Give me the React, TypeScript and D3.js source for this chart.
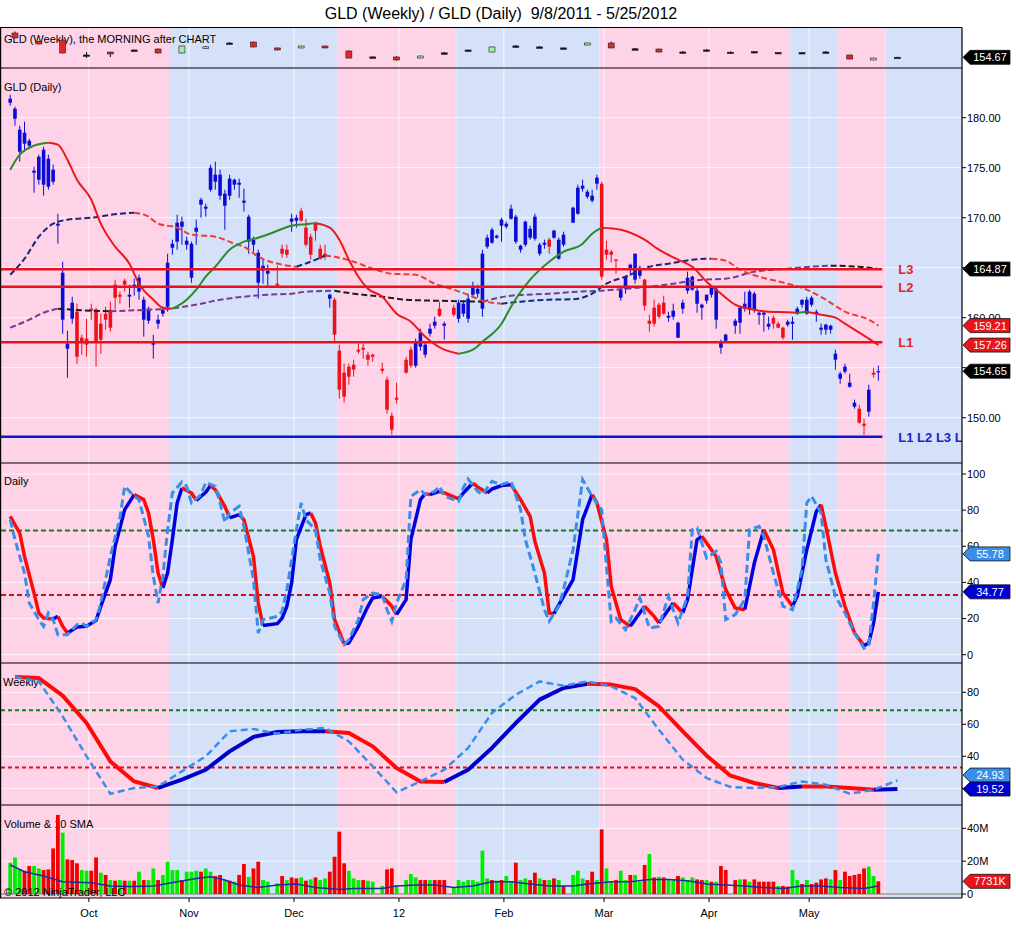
import { useEffect, useRef } from "react";
import * as d3 from "d3";

// calendar: one slot per weekday from 9/8/2011, holidays leave an empty slot
const firstDay = new Date(2011, 8, 8);
const stopDay = new Date(2012, 4, 22);
const holidays = ["2011-11-24", "2011-12-26", "2012-01-02", "2012-01-16", "2012-02-20", "2012-04-06"];
const monthStarts = ["2011-10", "2011-11", "2011-12", "2012-01", "2012-02", "2012-03", "2012-04", "2012-05"];
const monthLabels = ["Oct", "Nov", "Dec", "12", "Feb", "Mar", "Apr", "May"];

// GLD daily, one entry per trading day
const dailyOpen = [
  181.5, 179.9, 176.6, 177.4, 177.2, 174.5, 173.8, 173.3, 173.1, 173.6,
  169.2, 159.8, 156.9, 159.9, 160.6, 158.0, 157.9, 160.9, 160.8, 159.4,
  160.4, 160.8, 163.3, 162.3, 163.7, 162.1, 163.1, 162.6, 159.8, 159.7,
  157.3, 159.4, 160.4, 161.1, 167.0, 167.6, 169.1, 167.3, 164.0, 168.6,
  171.3, 170.9, 172.8, 173.6, 172.2, 171.2, 172.2, 173.3, 173.3, 171.5,
  167.6, 167.3, 163.5, 164.7, 164.4, 163.4, 166.9, 166.8, 169.6, 169.7,
  170.7, 169.0, 168.1, 169.4, 166.9, 166.4, 161.9, 161.8, 156.7, 154.5,
  155.1, 155.3, 156.8, 157.0, 156.3, 156.3, 154.9, 153.8, 150.2, 152.0,
  155.8, 156.8, 155.2, 157.1, 156.3, 158.4, 159.2, 160.9, 159.2, 161.0,
  159.9, 160.4, 159.9, 162.3, 162.4, 160.9, 167.1, 167.5, 168.0, 169.2,
  169.1, 169.9, 167.6, 166.8, 167.3, 168.0, 167.9, 166.4, 167.3, 167.8,
  168.0, 165.9, 167.3, 169.5, 170.4, 172.9, 172.1, 171.7, 173.4, 173.4,
  166.8, 166.6, 165.8, 162.0, 162.9, 164.8, 163.8, 164.2, 163.8, 159.7,
  161.0, 161.3, 161.5, 160.0, 160.1, 158.0, 160.9, 162.7, 162.8, 161.4,
  161.0, 161.7, 162.3, 159.8, 157.0, 157.7, 159.2, 159.5, 160.9, 160.8,
  160.8, 160.3, 160.3, 159.1, 160.0, 159.4, 159.0, 159.3, 159.4, 160.4,
  161.3, 160.4, 161.3, 160.4, 158.8, 158.8, 158.8, 155.8, 153.9, 154.6,
  153.1, 151.1, 150.9, 149.4, 150.6, 154.5, 154.6,
];
const dailyHigh = [
  182.3, 181.1, 179.2, 179.6, 177.9, 175.1, 176.3, 177.1, 176.3, 175.3,
  170.4, 165.6, 158.7, 162.1, 161.4, 158.3, 159.9, 161.4, 161.0, 160.4,
  161.1, 161.6, 163.8, 162.6, 163.9, 163.3, 163.9, 164.3, 162.1, 161.1,
  158.3, 160.3, 161.1, 166.4, 167.8, 170.3, 170.1, 168.1, 167.6, 169.8,
  172.0, 171.4, 175.3, 175.6, 174.8, 172.8, 174.3, 173.9, 173.9, 172.9,
  170.3, 168.1, 166.8, 165.8, 165.3, 165.2, 167.3, 167.3, 170.4, 170.3,
  171.0, 169.9, 168.4, 169.6, 167.3, 167.3, 162.4, 162.0, 157.3, 155.4,
  155.4, 155.8, 157.4, 157.4, 156.6, 156.4, 155.5, 154.1, 150.5, 153.5,
  156.1, 157.1, 157.9, 158.9, 157.6, 159.4, 160.1, 161.6, 159.6, 161.3,
  161.8, 161.7, 162.4, 163.6, 163.3, 166.8, 168.3, 169.0, 168.3, 170.0,
  169.6, 171.3, 170.3, 167.3, 169.7, 169.2, 170.4, 167.5, 167.8, 168.0,
  168.8, 168.0, 168.6, 171.1, 173.3, 173.8, 172.8, 172.8, 174.3, 173.6,
  167.7, 166.8, 165.9, 163.0, 164.2, 165.4, 166.4, 165.2, 163.9, 160.3,
  161.8, 161.5, 162.2, 160.6, 161.4, 159.6, 161.8, 164.6, 164.2, 163.1,
  161.4, 162.3, 163.2, 163.1, 157.8, 158.4, 159.9, 161.2, 162.6, 162.8,
  162.6, 160.6, 160.6, 160.1, 160.2, 159.6, 159.1, 159.8, 160.1, 161.1,
  161.8, 162.1, 162.2, 160.8, 159.4, 159.4, 159.3, 156.8, 154.6, 155.4,
  154.4, 151.8, 151.3, 149.9, 153.3, 155.0, 155.2,
];
const dailyLow = [
  181.2, 179.2, 175.6, 176.6, 176.9, 172.5, 173.3, 172.2, 172.8, 173.3,
  167.4, 158.4, 154.0, 159.4, 155.4, 156.3, 156.1, 159.8, 155.1, 156.4,
  158.8, 158.6, 160.8, 161.4, 162.6, 161.0, 162.2, 161.8, 158.1, 159.4,
  155.9, 158.9, 160.1, 160.6, 166.3, 166.8, 167.3, 166.8, 163.5, 167.3,
  170.0, 170.1, 172.6, 172.8, 171.8, 168.8, 171.8, 172.8, 172.0, 170.6,
  166.4, 166.6, 161.9, 163.4, 163.2, 163.0, 166.0, 166.0, 168.6, 169.0,
  169.6, 167.1, 165.8, 167.7, 165.8, 165.8, 161.0, 157.6, 151.9, 151.5,
  153.3, 154.1, 156.4, 155.9, 155.2, 155.6, 154.4, 150.4, 148.3, 151.4,
  154.4, 155.0, 155.0, 156.7, 156.0, 158.1, 158.9, 160.1, 157.8, 160.1,
  159.5, 160.1, 159.5, 162.0, 162.0, 160.1, 166.9, 167.4, 167.9, 167.6,
  168.9, 169.8, 167.4, 166.5, 167.1, 167.8, 167.7, 166.2, 166.9, 166.4,
  167.9, 165.8, 167.1, 169.5, 170.3, 172.6, 171.9, 171.5, 172.8, 163.8,
  165.8, 165.5, 164.4, 161.7, 162.4, 164.2, 163.4, 163.9, 160.7, 158.6,
  159.1, 159.9, 160.3, 159.6, 159.8, 158.0, 160.4, 162.4, 162.7, 160.5,
  159.8, 161.4, 162.0, 158.9, 156.4, 157.6, 158.4, 158.4, 160.6, 160.3,
  160.5, 159.3, 158.6, 158.8, 158.9, 159.0, 157.8, 159.1, 157.8, 160.3,
  161.0, 160.3, 161.1, 159.6, 158.3, 158.3, 158.4, 154.8, 153.4, 154.4,
  153.0, 150.9, 149.4, 148.3, 150.1, 154.0, 153.7,
];
const dailyClose = [
  181.9, 180.9, 178.8, 178.5, 177.7, 174.7, 176.1, 176.8, 175.9, 174.8,
  169.4, 164.5, 157.4, 161.5, 156.1, 157.5, 157.3, 160.7, 157.6, 157.8,
  159.8, 159.0, 162.0, 162.1, 163.3, 162.3, 163.3, 164.0, 161.8, 160.9,
  157.5, 159.8, 160.8, 165.5, 167.4, 169.5, 169.6, 167.7, 167.4, 169.0,
  171.8, 171.1, 175.0, 174.3, 174.3, 172.4, 173.9, 173.8, 173.5, 171.7,
  170.1, 167.8, 166.5, 165.2, 164.7, 163.2, 166.4, 166.3, 169.9, 170.0,
  169.7, 167.3, 166.3, 168.7, 165.9, 166.2, 162.3, 158.3, 152.8, 152.1,
  154.1, 154.8, 156.6, 156.8, 155.8, 156.1, 154.7, 150.8, 148.8, 151.8,
  154.5, 155.2, 157.6, 158.5, 157.3, 158.9, 159.6, 160.2, 159.4, 160.3,
  161.5, 161.4, 161.9, 163.1, 162.9, 166.4, 168.0, 168.8, 168.2, 169.8,
  169.4, 170.9, 170.1, 167.2, 169.6, 168.9, 170.1, 167.3, 167.5, 167.1,
  168.7, 167.8, 168.3, 171.0, 173.0, 173.2, 172.6, 172.2, 174.0, 164.1,
  166.3, 166.3, 165.7, 162.8, 164.1, 165.3, 166.4, 165.0, 161.2, 159.4,
  159.4, 160.1, 160.4, 160.2, 160.7, 159.5, 161.5, 164.0, 164.1, 162.7,
  161.3, 162.3, 163.0, 162.9, 157.6, 158.3, 159.7, 161.0, 161.4, 162.6,
  162.4, 160.5, 160.5, 159.4, 159.4, 159.0, 158.0, 159.6, 159.6, 160.9,
  161.8, 161.8, 162.0, 160.6, 159.0, 159.3, 159.2, 156.4, 154.4, 155.1,
  153.5, 151.5, 149.5, 149.2, 152.8, 154.3, 154.65,
];

// volume in millions, G = up day, R = down day
const volumeM = [
  19.1, 22.3, 15.0, 14.2, 17.1, 17.1, 15.6, 14.6, 15.0, 27.8,
  48.2, 37.4, 21.1, 20.7, 18.7, 14.6, 14.2, 14.2, 22.3, 13.0,
  11.6, 8.5, 8.1, 8.5, 8.1, 8.1, 8.1, 13.6, 8.5, 8.5,
  15.6, 8.5, 11.6, 19.7, 14.6, 14.6, 8.5, 13.6, 13.6, 14.2,
  13.6, 15.6, 13.6, 11.0, 11.6, 8.5, 8.1, 7.5, 11.6, 18.3,
  10.5, 15.6, 19.7, 8.5, 7.5, 6.5, 11.0, 8.5, 10.1, 9.5,
  10.1, 8.1, 8.9, 10.1, 8.5, 9.5, 13.6, 22.7, 38.0, 18.7,
  14.2, 9.5, 8.5, 8.5, 8.1, 7.5, 4.9, 15.0, 15.6, 5.5,
  8.5, 12.2, 10.1, 8.5, 8.5, 8.5, 8.5, 8.5, 8.5, 4.0,
  8.5, 7.5, 8.5, 8.5, 7.5, 26.4, 9.5, 8.5, 8.1, 8.5,
  11.0, 7.5, 19.1, 8.5, 9.5, 8.5, 13.0, 9.5, 8.5, 8.5,
  9.5, 8.5, 4.9, 11.6, 14.2, 9.5, 8.5, 13.6, 8.5, 39.4,
  15.6, 7.5, 8.5, 14.2, 8.5, 11.6, 11.6, 7.5, 17.7, 24.4,
  10.1, 10.5, 10.1, 8.5, 8.5, 11.0, 10.1, 8.5, 10.1, 8.9,
  8.5, 8.5, 7.5, 7.5, 17.1, 14.6, 8.5, 8.9, 8.9, 7.5,
  8.9, 7.5, 7.5, 7.5, 7.5, 4.9, 4.9, 4.5, 14.6, 8.5,
  6.1, 8.5, 6.1, 6.9, 8.9, 9.5, 8.9, 14.6, 8.5, 13.6,
  11.0, 11.6, 12.2, 15.6, 16.7, 11.0, 7.731,
];
const volumeDir =
  "GGGRRGGRRRRGRRRGGRRGRGRGRGRGRGGRGGGGRGGGRGGRRGRGRRGRRGG" +
  "GRGRRGRGRGGRRRRGGGRGG" + "GRRG" + "GGGRRGRRR" +
  "GGGGGGGGRGRGGRGGRRGRGRGR" + "GGGRRGRGGRGGRGGRGRGRGGRGGGRRGRGRR" +
  "RGRGRRRRRGRRGGRGRRRRGRGRRRRRGGR";
// 10 period SMA of volume, [slot, millions]
const volumeSma: [number, number][] = [
  [0, 17.7], [3, 13.6], [7, 11.0], [11, 7.5], [17, 6.9], [21, 4.9], [25, 4.5], [30, 4.9], [35, 7.5], [39, 9.5],
  [42, 10.5], [45, 8.5], [48, 5.5], [52, 4.0], [56, 5.5], [60, 6.1], [64, 4.0], [69, 2.8], [72, 3.4], [78, 3.4],
  [81, 4.9], [85, 5.5], [89, 5.5], [93, 4.0], [97, 4.9], [101, 7.5], [105, 7.5], [109, 6.1], [113, 4.9], [118, 4.9],
  [121, 6.1], [126, 7.5], [130, 7.5], [134, 8.9], [138, 8.9], [142, 8.1], [146, 6.1], [150, 5.5], [154, 4.9], [158, 4.0],
  [162, 3.4], [166, 4.9], [170, 4.9], [174, 4.0], [179, 3.4], [182, 4.9],
];

// moving averages on the daily chart, [slot, price]
const maFast: [number, number][] = [
  [0, 174.8], [2, 176.3], [5, 177.2], [8, 177.5], [10, 177.3], [12, 175.8], [14, 173.8], [17, 171.8], [19, 169.4], [22, 167.1],
  [25, 165.4], [27, 163.4], [30, 161.8], [32, 161.0], [34, 160.9], [37, 161.8], [39, 162.8], [41, 164.1], [43, 165.1], [46, 166.8],
  [49, 167.6], [52, 168.0], [55, 168.5], [59, 169.2], [62, 169.35], [64, 169.45], [67, 169.0], [69, 167.8], [71, 165.8], [73, 164.1],
  [75, 162.9], [78, 162.1], [81, 160.4], [84, 159.6], [87, 158.1], [91, 156.8], [94, 156.4], [97, 156.8], [99, 157.6], [103, 159.4],
  [105, 161.1], [109, 163.8], [113, 165.6], [116, 166.6], [120, 167.4], [122, 168.4], [124, 169.0], [128, 168.8], [133, 167.8], [136, 166.8],
  [140, 165.8], [143, 165.1], [146, 163.6], [149, 162.4], [152, 161.3], [156, 160.8], [159, 160.6], [163, 160.55], [165, 160.5], [167, 160.6],
  [170, 160.3], [173, 160.0], [175, 159.4], [177, 158.8], [180, 157.9], [182, 157.26],
];
const maMid: [number, number][] = [
  [0, 164.3], [3, 165.9], [6, 168.1], [9, 169.4], [12, 169.8], [17, 170.0], [23, 170.4], [26, 170.5], [29, 170.1], [31, 169.4],
  [35, 169.0], [38, 168.3], [43, 168.1], [47, 167.4], [49, 167.1], [52, 166.1], [57, 165.3], [60, 165.1], [63, 165.6], [66, 166.2],
  [68, 166.1], [72, 165.6], [76, 164.9], [80, 164.4], [85, 164.3], [89, 163.4], [93, 162.8], [97, 162.1], [99, 161.7], [103, 161.4],
  [107, 161.6], [113, 161.8], [118, 161.85], [122, 162.4], [125, 163.4], [129, 164.1], [134, 165.1], [138, 165.4], [143, 165.8], [147, 165.9],
  [150, 165.7], [153, 164.8], [157, 164.1], [163, 163.4], [167, 162.8], [171, 161.8], [175, 160.6], [180, 159.8], [182, 159.21],
];
const maSlow: [number, number][] = [
  [0, 159.0], [4, 159.8], [7, 160.5], [10, 160.9], [13, 160.8], [17, 160.7], [21, 160.65], [24, 160.7], [29, 160.8], [32, 160.85],
  [35, 161.0], [40, 161.4], [44, 161.8], [49, 162.1], [54, 162.3], [59, 162.4], [62, 162.6], [68, 162.7], [72, 162.4], [78, 162.1],
  [83, 161.8], [89, 161.7], [94, 161.65], [99, 161.6], [105, 162.2], [113, 162.4], [119, 162.6], [124, 162.7], [129, 162.9], [134, 163.1],
  [139, 163.4], [145, 163.8], [150, 163.9], [156, 164.6], [163, 164.9], [168, 165.1], [172, 165.2], [178, 165.1], [182, 164.87],
];

// drawn levels
const levelPrices = [164.85, 163.1, 157.55];
const levelNames = ["L3", "L2", "L1"];
const supportPrice = 148.1;
const supportName = "L1 L2 L3 L4";

// daily stochastics, [slot, value]
const dailyD: [number, number][] = [
  [0, 76.6], [2, 67.3], [3, 54.4], [5, 34.1], [6, 23.1], [7, 20.3], [9, 19.7], [10, 21.2], [11, 15.7], [12, 12.0],
  [14, 15.3], [16, 15.7], [18, 19.0], [19, 26.8], [21, 41.5], [22, 60.0], [24, 80.3], [26, 88.6], [28, 85.8], [29, 78.4],
  [30, 63.7], [31, 45.2], [32, 36.9], [33, 45.2], [34, 63.7], [35, 84.0], [36, 92.3], [38, 89.5], [39, 85.4], [41, 89.9],
  [42, 93.6], [43, 91.3], [45, 82.1], [46, 75.7], [48, 77.5], [49, 74.7], [51, 54.4], [52, 28.6], [53, 16.1], [56, 17.2],
  [57, 20.3], [58, 26.8], [59, 39.7], [60, 63.7], [62, 77.5], [63, 78.4], [64, 72.9], [65, 60.0], [67, 39.7], [68, 19.4],
  [70, 6.0], [71, 6.5], [73, 15.7], [75, 26.8], [76, 31.4], [78, 32.3], [80, 26.8], [81, 22.2], [83, 30.5], [84, 63.7],
  [86, 85.8], [87, 89.1], [88, 88.6], [90, 90.4], [91, 89.5], [94, 86.2], [95, 89.5], [97, 95.0], [98, 92.8], [100, 89.5],
  [101, 91.7], [103, 93.6], [105, 94.1], [107, 85.8], [109, 76.6], [110, 62.7], [112, 45.2], [113, 23.1], [114, 22.7], [116, 32.3],
  [118, 41.5], [120, 74.7], [122, 88.6], [123, 84.0], [125, 63.7], [126, 37.8], [128, 19.4], [130, 15.7], [133, 26.8], [135, 21.2],
  [136, 17.5], [139, 28.6], [141, 23.1], [142, 30.5], [144, 63.7], [145, 65.5], [147, 58.1], [148, 54.4], [150, 36.0], [152, 25.8],
  [154, 24.9], [156, 50.7], [158, 69.2], [160, 58.1], [162, 34.1], [164, 26.8], [165, 32.3], [167, 58.1], [169, 79.3], [170, 83.0],
  [171, 71.0], [173, 45.2], [175, 26.8], [177, 12.0], [179, 5.0], [180, 6.5], [181, 17.5], [182, 34.77],
];
const dailyK: [number, number][] = [
  [0, 74.7], [1, 63.7], [3, 45.2], [4, 28.6], [6, 19.4], [7, 15.7], [8, 23.1], [9, 19.4], [10, 11.1], [12, 11.1],
  [14, 16.6], [15, 17.5], [16, 15.7], [18, 19.4], [19, 28.6], [21, 54.4], [23, 75.7], [24, 93.2], [26, 87.7], [27, 85.8],
  [29, 65.5], [30, 43.4], [31, 28.6], [32, 43.4], [33, 69.2], [34, 89.5], [36, 95.6], [37, 93.2], [38, 84.0], [40, 88.6],
  [41, 95.4], [43, 93.2], [44, 84.0], [45, 73.3], [46, 78.4], [48, 82.1], [49, 71.0], [51, 41.5], [52, 12.0], [53, 19.4],
  [56, 21.2], [57, 24.0], [58, 36.0], [60, 69.2], [61, 84.0], [62, 74.7], [64, 69.2], [65, 52.6], [67, 34.1], [68, 15.7],
  [70, 5.5], [71, 8.3], [73, 19.4], [74, 30.5], [76, 34.1], [78, 33.2], [79, 24.9], [80, 18.5], [81, 28.6], [83, 41.5],
  [84, 87.7], [86, 91.3], [87, 88.6], [89, 90.4], [90, 93.2], [91, 87.7], [94, 84.9], [95, 92.3], [96, 97.2], [98, 90.4],
  [99, 88.6], [101, 96.0], [103, 94.1], [105, 96.0], [107, 80.3], [108, 63.7], [110, 45.2], [112, 24.9], [113, 18.5], [115, 26.8],
  [116, 36.0], [118, 58.1], [120, 96.9], [122, 87.7], [124, 80.3], [125, 48.9], [126, 18.5], [127, 20.3], [129, 13.8], [131, 24.9],
  [132, 31.4], [134, 14.8], [136, 15.7], [138, 32.3], [139, 24.9], [140, 17.5], [142, 32.3], [143, 69.2], [144, 70.1], [145, 61.8],
  [146, 53.5], [148, 57.2], [149, 50.7], [150, 19.4], [152, 22.2], [154, 30.5], [155, 69.2], [157, 71.0], [158, 65.5], [160, 45.2],
  [162, 26.8], [164, 24.9], [166, 47.1], [167, 84.0], [168, 87.7], [170, 78.4], [171, 52.6], [173, 32.3], [175, 23.1], [177, 12.0],
  [179, 3.7], [180, 5.5], [181, 28.6], [182, 55.78],
];

// weekly stochastics, one value per week (week k ends in slot 1 + 5k)
const weeklyD = [
  89.6, 88.9, 77.9, 60.8, 36.8, 24.3, 20.2, 25.4, 31.6, 43.1,
  52.1, 55.2, 55.6, 55.7, 54.6, 46.2, 32.7, 24.3, 23.9, 31.6,
  45.2, 60.8, 75.4, 82.7, 85.4, 84.8, 82.0, 71.2, 55.6, 40.4,
  27.9, 23.3, 20.2, 21.2, 21.1, 20.2, 19.1, 19.52,
];
const weeklyK = [
  89.6, 86.8, 65.0, 40.0, 16.6, 20.2, 21.2, 30.6, 40.0, 55.6,
  57.1, 54.1, 56.6, 57.7, 49.3, 33.7, 17.5, 24.3, 31.6, 45.2,
  67.1, 78.5, 86.8, 84.1, 86.8, 83.7, 76.4, 56.6, 37.9, 26.4,
  20.8, 20.2, 20.8, 24.3, 22.2, 16.6, 19.1, 24.93,
];
const stochUpper = 68.8;
const stochLower = 33;

// GLD weekly candles of the top strip, weeks 0..37
const stripFirstWeek = 0;
const stripOpen = [184.6, 174.2, 176.0, 157.6, 161.2, 163.7, 164.9, 160.0, 166.6, 172.3, 173.5, 166.2, 166.2, 168.6, 162.5, 155.2, 155.1, 153.8, 160.2, 163.7, 161.2, 168.7, 167.5, 166.3, 169.8, 172.3, 165.2, 164.9, 161.3, 163.8, 161.0, 161.8, 160.7, 160.0, 161.3, 157.5, 151.4, 154.8];
const stripHigh = [186.5, 174.5, 177.2, 161.2, 161.5, 164.3, 165.5, 169.0, 168.6, 173.5, 174.0, 166.6, 168.9, 169.0, 163.0, 155.8, 156.0, 156.8, 161.0, 164.0, 167.8, 170.0, 168.6, 166.6, 172.6, 174.0, 166.2, 165.3, 162.4, 165.0, 162.0, 162.2, 161.2, 161.0, 162.4, 158.0, 154.2, 155.3];
const stripLow = [178.0, 170.6, 159.4, 153.8, 155.0, 163.1, 159.4, 159.5, 164.9, 171.1, 167.0, 163.3, 165.8, 165.8, 153.5, 154.6, 150.5, 153.5, 159.3, 163.3, 160.8, 168.0, 167.0, 165.8, 169.6, 165.8, 163.7, 160.8, 160.0, 162.4, 159.5, 161.2, 160.2, 159.6, 160.0, 152.3, 151.1, 154.4];
const stripClose = [178.5, 171.1, 160.0, 157.4, 158.8, 163.6, 160.0, 168.6, 167.6, 172.2, 167.4, 163.7, 168.6, 166.2, 153.8, 155.0, 151.4, 156.3, 159.8, 163.6, 167.4, 168.5, 167.3, 166.1, 172.3, 166.2, 164.8, 161.2, 161.1, 163.6, 160.6, 161.5, 160.5, 160.6, 161.1, 152.6, 153.8, 154.67];

// background bands, boundaries in weeks
const shadeBreaks = [6.5, 13.5, 18.5, 24.5, 32.5, 34.5, 36.5];

const priceTicks = [180, 175, 170, 165, 160, 155, 150];
const dailyTicks = [100, 80, 60, 40, 20, 0];
const weeklyTicks = [80, 60, 40, 20];
const volumeTicks = [40, 20, 0];

const font = "Liberation Sans, Arial, Helvetica, sans-serif";
const pink = "#ffd3e7";
const paleBlue = "#d5e1f8";
const candleBlue = "#0b0bd6";
const candleRed = "#f0101c";
const stochBlue = "#0000e0";
const stochRed = "#ff0a0a";
const stochDash = "#3a8eea";

type Pt = [number, number];

export default function App() {
  const svgRef = useRef<SVGSVGElement | null>(null);

  useEffect(() => {
    document.body.style.margin = "0";
    const svg = d3.select(svgRef.current);
    svg.selectAll("*").remove();

    const iso = d3.timeFormat("%Y-%m-%d");
    const ym = d3.timeFormat("%Y-%m");
    const weekdays = d3.timeDay.range(firstDay, stopDay).filter(d => d.getDay() % 6 !== 0);
    const holidaySet = new Set(holidays);
    const tradingSlots = weekdays.map((d, i) => ({ d, i })).filter(o => !holidaySet.has(iso(o.d))).map(o => o.i);
    const monthSlots = monthStarts.map(m => weekdays.findIndex(d => ym(d) === m));
    const lastSlot = tradingSlots[Math.min(tradingSlots.length, dailyClose.length) - 1];

    const PL = 1, PR = 962;
    const x = d3.scaleLinear().domain([0, 200]).range([10.2, 10.2 + 200 * 4.77]);
    const weekSlot = (k: number) => 1 + 5 * k;

    const panels = [
      { id: "strip", top: 27.5, bottom: 68, ticks: [] as number[], y: (v: number) => v },
      { id: "price", top: 68, bottom: 463, ticks: priceTicks, y: d3.scaleLinear().domain([180, 150]).range([117.7, 417.7]) },
      { id: "daily", top: 463, bottom: 663, ticks: dailyTicks, y: d3.scaleLinear().domain([0, 100]).range([654.7, 474]) },
      { id: "weekly", top: 663, bottom: 805, ticks: weeklyTicks, y: d3.scaleLinear().domain([80, 40]).range([692.3, 756.3]) },
      { id: "volume", top: 805, bottom: 898, ticks: volumeTicks, y: d3.scaleLinear().domain([0, 40]).range([894, 828.4]) },
    ];
    const yStrip = d3.scaleLinear().domain([176, 150]).range([40, 61.125]);
    const yPrice = panels[1].y;
    const yDaily = panels[2].y;
    const yWeekly = panels[3].y;
    const yVol = panels[4].y;

    svg.append("rect").attr("width", 1016).attr("height", 945).attr("fill", "#fff");
    const defs = svg.append("defs");

    const bandEdges = [PL, ...shadeBreaks.map(k => x(weekSlot(k))), PR];
    const layers: Record<string, d3.Selection<SVGGElement, unknown, null, undefined>> = {};

    panels.forEach(p => {
      defs.append("clipPath").attr("id", `clip-${p.id}`)
        .append("rect").attr("x", PL).attr("y", p.top).attr("width", PR - PL).attr("height", p.bottom - p.top);
      const g = svg.append("g").attr("clip-path", `url(#clip-${p.id})`);
      g.selectAll("rect.band").data(d3.pairs(bandEdges)).join("rect")
        .attr("x", d => d[0]).attr("width", d => d[1] - d[0])
        .attr("y", p.top).attr("height", p.bottom - p.top)
        .attr("fill", (_, i) => (i % 2 === 0 ? pink : paleBlue));
      g.selectAll("line.vgrid").data(monthSlots).join("line")
        .attr("x1", s => x(s - 0.5)).attr("x2", s => x(s - 0.5))
        .attr("y1", p.top).attr("y2", p.bottom)
        .attr("stroke", "#fff").attr("stroke-opacity", 0.75);
      g.selectAll("line.hgrid").data(p.ticks).join("line")
        .attr("x1", PL).attr("x2", PR).attr("y1", v => p.y(v)).attr("y2", v => p.y(v))
        .attr("stroke", "#fff").attr("stroke-opacity", 0.75);
      layers[p.id] = g;
    });

    const label = (g: d3.Selection<SVGGElement, unknown, null, undefined>, tx: number, ty: number, text: string, size = 11) =>
      g.append("text").attr("x", tx).attr("y", ty).attr("font-family", font).attr("font-size", size).attr("fill", "#000").text(text);

    // line coloured by its slope
    const slopeLine = (
      g: d3.Selection<SVGGElement, unknown, null, undefined>, pts: Pt[], ys: (v: number) => number,
      up: string, down: string, width: number, dash: string | null, curve: d3.CurveFactory,
    ) => {
      const line = d3.line<Pt>().x(p => x(p[0])).y(p => ys(p[1])).curve(curve);
      let i = 0;
      while (i < pts.length - 1) {
        const rising = pts[i + 1][1] > pts[i][1];
        let j = i + 1;
        while (j < pts.length - 1 && (pts[j + 1][1] > pts[j][1]) === rising) j++;
        g.append("path").attr("d", line(pts.slice(i, j + 1)))
          .attr("fill", "none").attr("stroke", rising ? up : down).attr("stroke-width", width)
          .attr("stroke-dasharray", dash).attr("stroke-linejoin", "round");
        i = j;
      }
    };

    // ---- top strip: weekly candles ----
    const strip = layers.strip;
    label(strip, 4, 43, "GLD (Weekly), the MORNING after CHART");
    const weeks = stripOpen.map((o, i) => ({
      k: stripFirstWeek + i, o, h: stripHigh[i], l: stripLow[i], c: stripClose[i],
    }));
    strip.selectAll("line.wk").data(weeks).join("line")
      .attr("x1", d => x(weekSlot(d.k))).attr("x2", d => x(weekSlot(d.k)))
      .attr("y1", d => yStrip(d.h)).attr("y2", d => yStrip(d.l))
      .attr("stroke", "#111").attr("stroke-width", 1);
    strip.selectAll("rect.wk").data(weeks).join("rect")
      .attr("x", d => x(weekSlot(d.k)) - 3).attr("width", 6)
      .attr("y", d => yStrip(Math.max(d.o, d.c)))
      .attr("height", d => Math.max(1.5, yStrip(Math.min(d.o, d.c)) - yStrip(Math.max(d.o, d.c))))
      .attr("fill", d => (Math.abs(d.c - d.o) < 0.6 ? "#111" : d.c > d.o ? "#a3eca3" : "#e02828"))
      .attr("stroke", "#222").attr("stroke-width", 0.6);

    // ---- price panel ----
    const price = layers.price;
    label(price, 4, 91, "GLD (Daily)");
    const candles = tradingSlots.slice(0, dailyClose.length).map((slot, i) => ({
      slot, o: dailyOpen[i], h: dailyHigh[i], l: dailyLow[i], c: dailyClose[i],
    }));
    const cColor = (d: { o: number; c: number }) => (d.c >= d.o ? candleBlue : candleRed);
    price.selectAll("line.wick").data(candles).join("line")
      .attr("x1", d => x(d.slot)).attr("x2", d => x(d.slot))
      .attr("y1", d => yPrice(d.h)).attr("y2", d => yPrice(d.l))
      .attr("stroke", cColor).attr("stroke-width", 1);
    price.selectAll("rect.body").data(candles).join("rect")
      .attr("x", d => x(d.slot) - 1.8).attr("width", 3.6)
      .attr("y", d => yPrice(Math.max(d.o, d.c)))
      .attr("height", d => Math.max(1.2, yPrice(Math.min(d.o, d.c)) - yPrice(Math.max(d.o, d.c))))
      .attr("fill", cColor);

    slopeLine(price, maSlow, yPrice, "#7b3a92", "#1e1e1e", 2, "6,3", d3.curveMonotoneX);
    slopeLine(price, maMid, yPrice, "#1b2674", "#ec3c34", 2, "6,3", d3.curveMonotoneX);
    slopeLine(price, maFast, yPrice, "#2b8a2b", "#ea1a1a", 2, null, d3.curveMonotoneX);

    const levelEnd = x(lastSlot) + 4;
    price.selectAll("line.level").data(levelPrices).join("line")
      .attr("x1", PL).attr("x2", levelEnd).attr("y1", v => yPrice(v)).attr("y2", v => yPrice(v))
      .attr("stroke", "#e8121c").attr("stroke-width", 2.5);
    price.selectAll("text.level").data(levelPrices).join("text")
      .attr("x", levelEnd + 16).attr("y", v => yPrice(v)).attr("dy", "0.38em")
      .attr("font-family", font).attr("font-size", 13).attr("font-weight", "bold").attr("fill", "#e8222a")
      .text((_, i) => levelNames[i]);
    price.append("line").attr("x1", PL).attr("x2", levelEnd)
      .attr("y1", yPrice(supportPrice)).attr("y2", yPrice(supportPrice))
      .attr("stroke", "#0b16d4").attr("stroke-width", 2.5);
    price.append("text").attr("x", levelEnd + 16).attr("y", yPrice(supportPrice)).attr("dy", "0.38em")
      .attr("font-family", font).attr("font-size", 13).attr("font-weight", "bold").attr("fill", "#1526d0")
      .attr("xml:space", "preserve").text(supportName);

    // ---- daily stochastics ----
    const daily = layers.daily;
    label(daily, 4, 485, "Daily");
    [[stochUpper, "#10801a"], [stochLower, "#d01020"]].forEach(([v, c]) => {
      daily.append("line").attr("x1", PL).attr("x2", PR)
        .attr("y1", yDaily(v as number)).attr("y2", yDaily(v as number))
        .attr("stroke", c as string).attr("stroke-width", 2).attr("stroke-dasharray", "5,3");
    });
    slopeLine(daily, dailyD, yDaily, stochBlue, stochRed, 3.5, null, d3.curveLinear);
    daily.append("path").attr("d", d3.line<Pt>().x(p => x(p[0])).y(p => yDaily(p[1]))(dailyK))
      .attr("fill", "none").attr("stroke", stochDash).attr("stroke-width", 3).attr("stroke-dasharray", "8,4");

    // ---- weekly stochastics ----
    const weekly = layers.weekly;
    label(weekly, 3, 686, "Weekly");
    [[stochUpper, "#10801a"], [stochLower, "#e01020"]].forEach(([v, c]) => {
      weekly.append("line").attr("x1", PL).attr("x2", PR)
        .attr("y1", yWeekly(v as number)).attr("y2", yWeekly(v as number))
        .attr("stroke", c as string).attr("stroke-width", 2).attr("stroke-dasharray", "4,3");
    });
    const wD: Pt[] = weeklyD.map((v, k) => [weekSlot(k), v]);
    const wK: Pt[] = weeklyK.map((v, k) => [weekSlot(k), v]);
    slopeLine(weekly, wD, yWeekly, "#0000c8", stochRed, 4, null, d3.curveLinear);
    weekly.append("path").attr("d", d3.line<Pt>().x(p => x(p[0])).y(p => yWeekly(p[1]))(wK))
      .attr("fill", "none").attr("stroke", stochDash).attr("stroke-width", 2.5).attr("stroke-dasharray", "7,4");

    // ---- volume ----
    const vol = layers.volume;
    label(vol, 4, 828, "Volume & 10 SMA");
    vol.append("line").attr("x1", PL).attr("x2", PR).attr("y1", yVol(0)).attr("y2", yVol(0))
      .attr("stroke", "#9a9a9a").attr("stroke-width", 1.5);
    const bars = tradingSlots.slice(0, volumeM.length).map((slot, i) => ({ slot, v: volumeM[i], up: volumeDir[i] === "G" }));
    vol.selectAll("rect.vol").data(bars).join("rect")
      .attr("x", d => x(d.slot) - 1.9).attr("width", 3.8)
      .attr("y", d => yVol(d.v)).attr("height", d => yVol(0) - yVol(d.v))
      .attr("fill", d => (d.up ? "#00ee00" : "#f00000"));
    vol.append("path").attr("d", d3.line<Pt>().x(p => x(p[0])).y(p => yVol(p[1]))(volumeSma))
      .attr("fill", "none").attr("stroke", "#1d2aa8").attr("stroke-width", 1.5);
    label(vol, 4, 896, "\u00a9 2012 NinjaTrader, LLC");

    // ---- frame and axes ----
    const frame = svg.append("g").attr("stroke", "#000").attr("stroke-width", 1.2);
    [27.5, 68, 463, 663, 805, 898].forEach(yy => frame.append("line").attr("x1", 0).attr("x2", PR).attr("y1", yy).attr("y2", yy));
    frame.append("line").attr("x1", PR).attr("x2", PR).attr("y1", 27.5).attr("y2", 898);
    frame.append("line").attr("x1", 0.6).attr("x2", 0.6).attr("y1", 27.5).attr("y2", 898);

    // value tags on the right axis, per panel
    const tags: { panel: string; y: number; text: string; fill: string }[] = [];
    const lastStrip = stripClose[stripClose.length - 1];
    tags.push({ panel: "strip", y: yStrip(lastStrip), text: lastStrip.toFixed(2), fill: "#000" });
    tags.push({ panel: "price", y: yPrice(maSlow[maSlow.length - 1][1]), text: maSlow[maSlow.length - 1][1].toFixed(2), fill: "#000" });
    tags.push({ panel: "price", y: yPrice(maMid[maMid.length - 1][1]), text: maMid[maMid.length - 1][1].toFixed(2), fill: "#e8141c" });
    tags.push({ panel: "price", y: yPrice(maFast[maFast.length - 1][1]), text: maFast[maFast.length - 1][1].toFixed(2), fill: "#e8141c" });
    tags.push({ panel: "price", y: yPrice(dailyClose[dailyClose.length - 1]), text: dailyClose[dailyClose.length - 1].toFixed(2), fill: "#000" });
    tags.push({ panel: "daily", y: yDaily(dailyK[dailyK.length - 1][1]), text: dailyK[dailyK.length - 1][1].toFixed(2), fill: "#3a8eea" });
    tags.push({ panel: "daily", y: yDaily(dailyD[dailyD.length - 1][1]), text: dailyD[dailyD.length - 1][1].toFixed(2), fill: "#0000d0" });
    const wdY = yWeekly(weeklyD[weeklyD.length - 1]);
    tags.push({ panel: "weekly", y: Math.min(yWeekly(weeklyK[weeklyK.length - 1]), wdY - 14), text: weeklyK[weeklyK.length - 1].toFixed(2), fill: "#3a8eea" });
    tags.push({ panel: "weekly", y: wdY, text: weeklyD[weeklyD.length - 1].toFixed(2), fill: "#0000d0" });
    const lastVol = volumeM[volumeM.length - 1];
    tags.push({ panel: "volume", y: yVol(lastVol), text: `${Math.round(lastVol * 1000)}K`, fill: "#e8141c" });

    const axis = svg.append("g").attr("font-family", font).attr("font-size", 11);
    panels.slice(1).forEach(p => {
      p.ticks.forEach(v => {
        const yy = p.y(v);
        axis.append("line").attr("x1", PR).attr("x2", PR + 4).attr("y1", yy).attr("y2", yy).attr("stroke", "#000");
        // a tick label lying right under a tag is covered by it
        if (tags.some(t => t.panel === p.id && Math.abs(t.y - yy) < 6)) return;
        const txt = p.id === "price" ? v.toFixed(2) : p.id === "volume" ? (v === 0 ? "0" : `${v}M`) : `${v}`;
        axis.append("text").attr("x", PR + 5).attr("y", yy).attr("dy", "0.35em").attr("fill", "#000").text(txt);
      });
    });

    tags.forEach(t => {
      const h = 14, x0 = PR + 1, w = 47;
      axis.append("path")
        .attr("d", `M${x0},${t.y} L${x0 + 7},${t.y - h / 2} H${x0 + w} V${t.y + h / 2} H${x0 + 7} Z`)
        .attr("fill", t.fill).attr("stroke", "#111").attr("stroke-width", 0.8);
      axis.append("text").attr("x", x0 + 7 + (w - 7) / 2).attr("y", t.y).attr("dy", "0.36em")
        .attr("text-anchor", "middle").attr("fill", "#fff").text(t.text);
    });

    // x axis
    monthSlots.forEach((s, i) => {
      const xx = x(s - 0.5);
      axis.append("line").attr("x1", xx).attr("x2", xx).attr("y1", 898).attr("y2", 902).attr("stroke", "#000");
      axis.append("text").attr("x", xx).attr("y", 913).attr("dy", "0.35em").attr("text-anchor", "middle")
        .attr("fill", "#000").text(monthLabels[i]);
    });

    svg.append("text").attr("x", 501).attr("y", 19).attr("text-anchor", "middle")
      .attr("font-family", font).attr("font-size", 16).attr("fill", "#000")
      .attr("xml:space", "preserve")
      .text("GLD (Weekly) / GLD (Daily)  9/8/2011 - 5/25/2012");
  }, []);

  return <svg ref={svgRef} width={1016} height={945} style={{ display: "block" }} />;
}
